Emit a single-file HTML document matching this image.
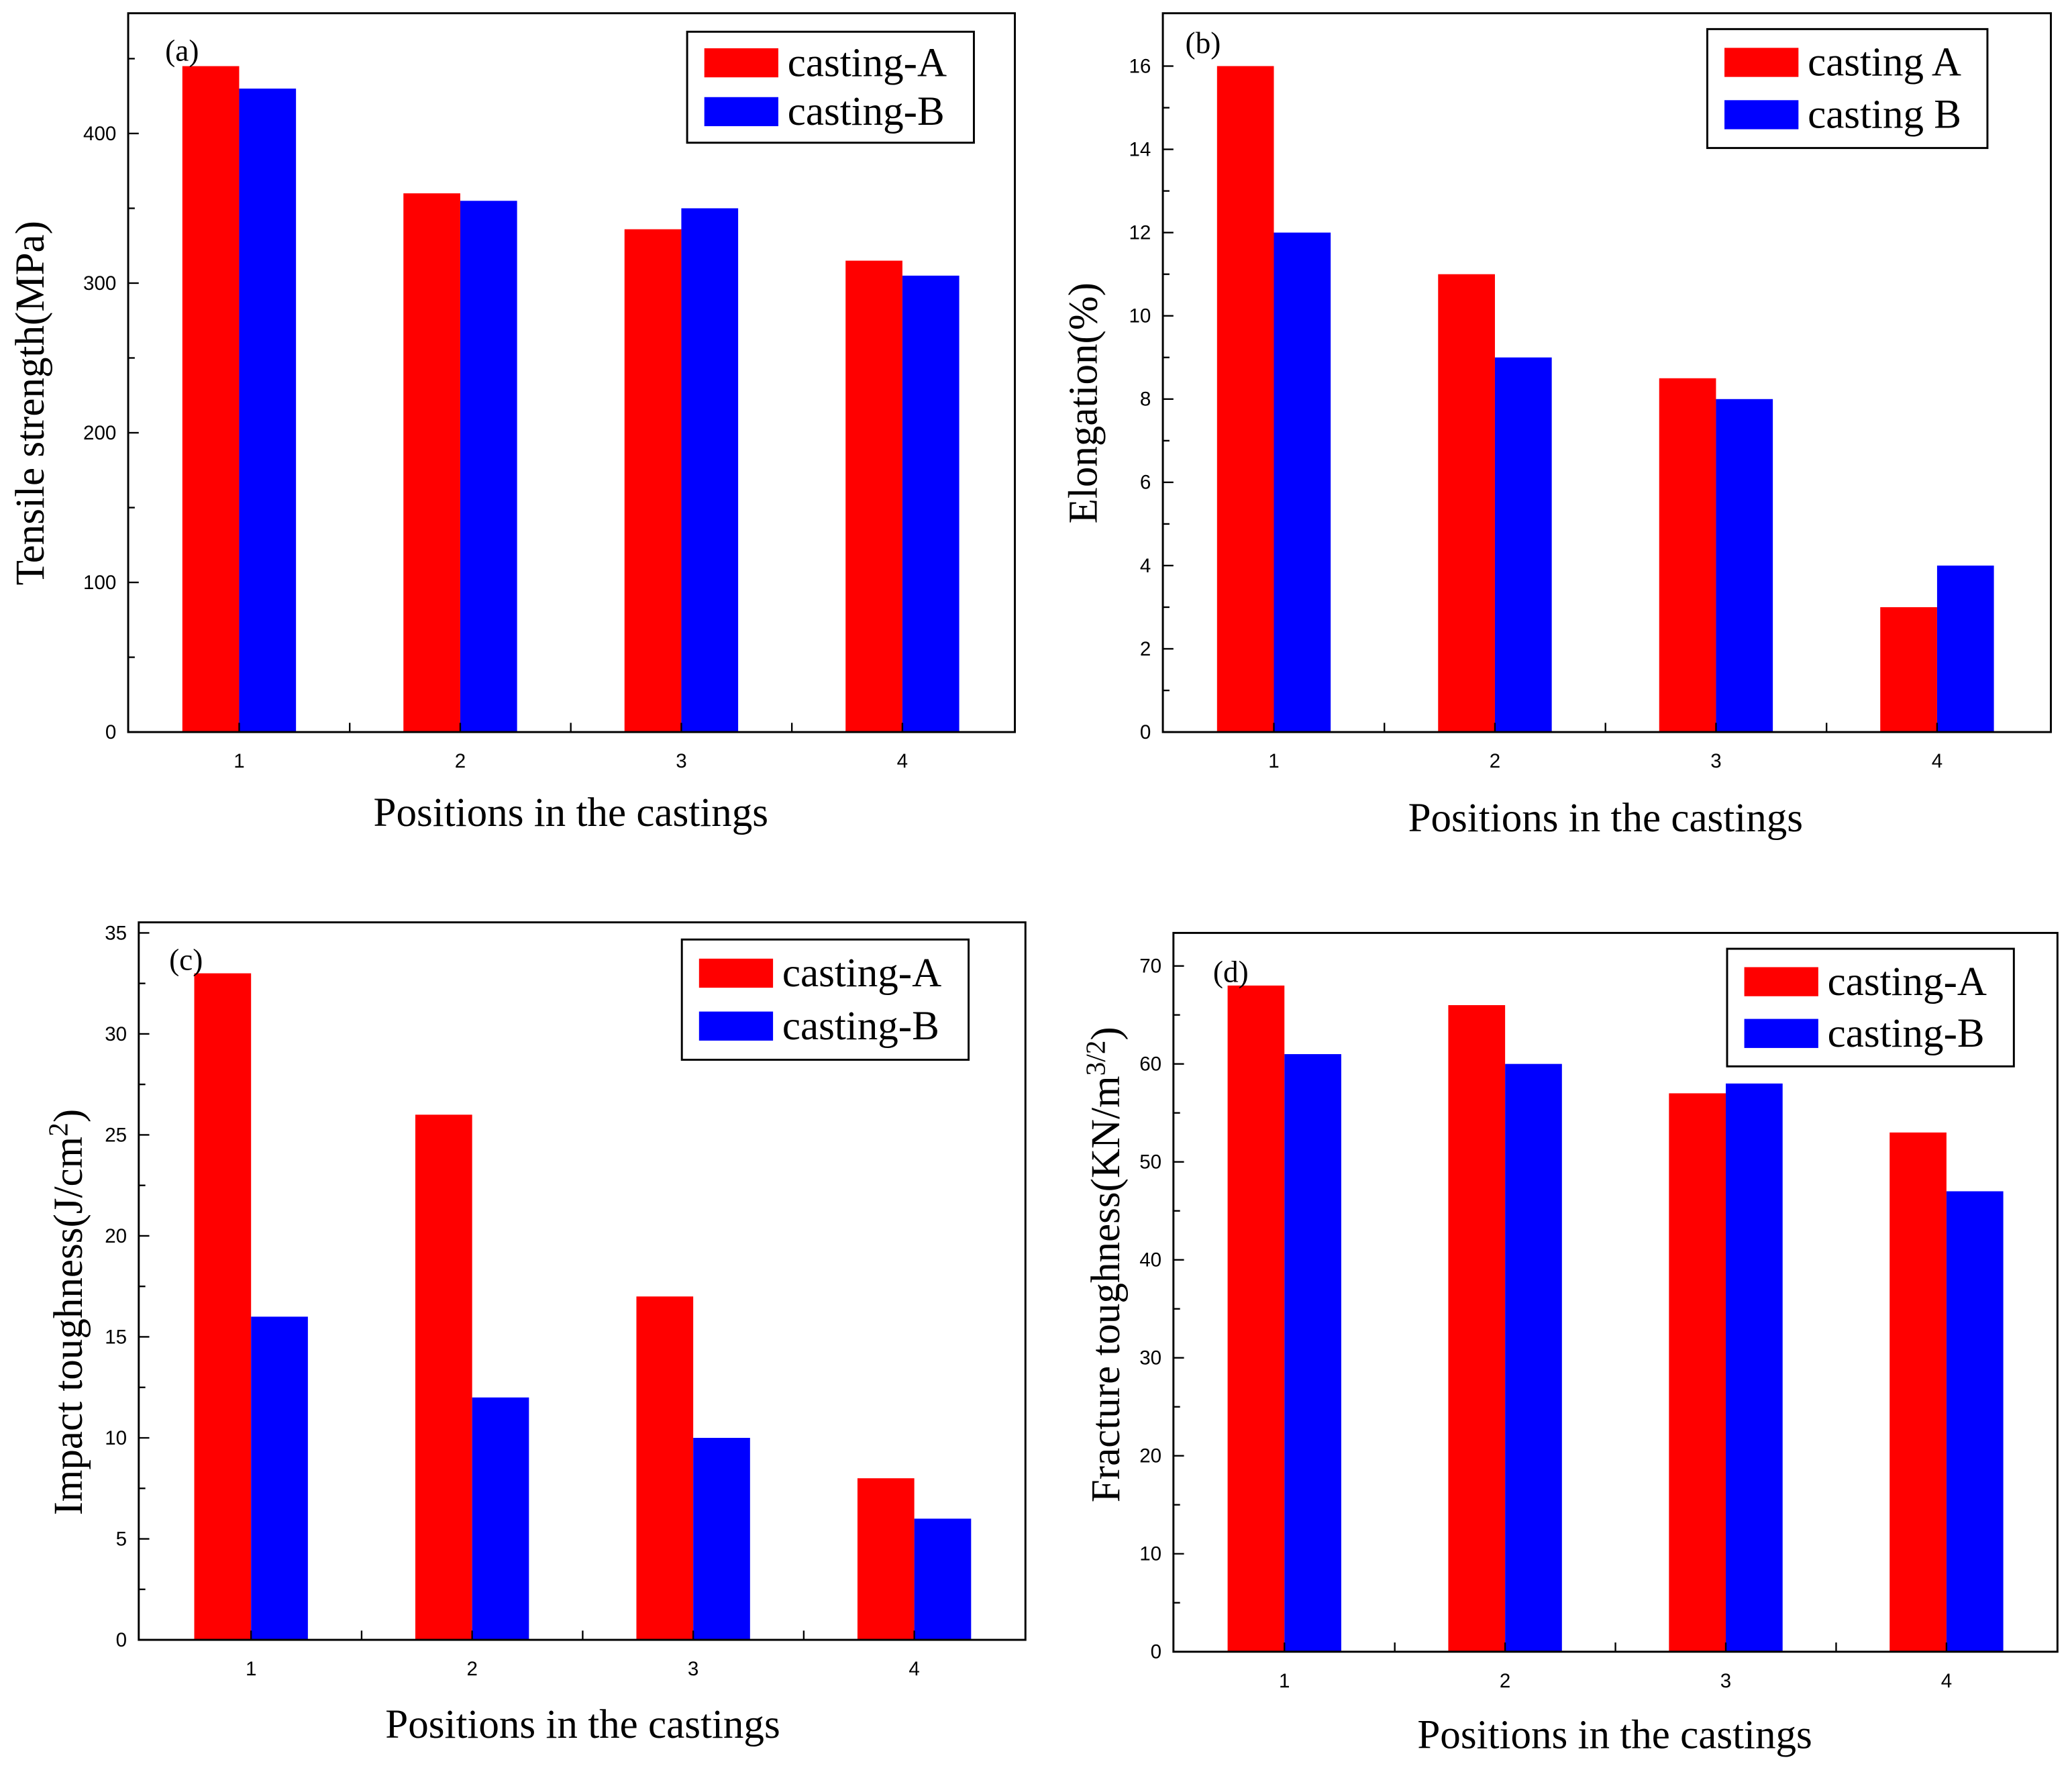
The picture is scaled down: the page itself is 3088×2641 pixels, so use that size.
<!DOCTYPE html>
<html><head><meta charset="utf-8"><style>
html,body{margin:0;padding:0;background:#fff}
svg{display:block}
.tk{font-family:"Liberation Sans",sans-serif;font-size:15px;fill:#000}
.tt{font-family:"Liberation Serif",serif;font-size:31px;fill:#000}
.lg{font-family:"Liberation Serif",serif;font-size:31px;fill:#000}
.pl{font-family:"Liberation Serif",serif;font-size:23px;fill:#000}
</style></head><body>
<svg id="fig" width="3088" height="2641" viewBox="0 0 1568 1341" xmlns="http://www.w3.org/2000/svg"></svg>
<script>
const categories = ["1","2","3","4"];
const aCastingA = [445,360,336,315];
const aCastingB = [430,355,350,305];
const bCastingA = [16,11,8.5,3];
const bCastingB = [12,9,8,4];
const cCastingA = [33,26,17,8];
const cCastingB = [16,12,10,6];
const dCastingA = [68,66,57,53];
const dCastingB = [61,60,58,47];
const aTicks = ["0","100","200","300","400"];
const bTicks = ["0","2","4","6","8","10","12","14","16"];
const cTicks = ["0","5","10","15","20","25","30","35"];
const dTicks = ["0","10","20","30","40","50","60","70"];

const NS="http://www.w3.org/2000/svg";
const svg=document.getElementById('fig');
function mk(tag,attrs,parent){const e=document.createElementNS(NS,tag);for(const k in attrs)e.setAttribute(k,attrs[k]);(parent||svg).appendChild(e);return e;}

function panel(cfg){
  const g=mk('g',{});
  
  
  const {L,T,R,B,vmax,vTop,yTop,c1,step,bw}=cfg;
  const y=v=>B-(B-yTop)*v/vTop;
  const x=i=>c1+i*step;
  categories.forEach((c,i)=>{
    const r=mk('rect',{x:x(i)-bw,y:y(cfg.A[i]),width:bw,height:B-y(cfg.A[i]),fill:'#ff0000'},g);
    
    
    const b=mk('rect',{x:x(i),y:y(cfg.Bv[i]),width:bw,height:B-y(cfg.Bv[i]),fill:'#0000ff'},g);
    
    
  });
  const fr=mk('rect',{x:L,y:T,width:R-L,height:B-T,fill:'none',stroke:'#000','stroke-width':1.5},g);
  
  
  const tv=cfg.ticks.map(Number);
  const d=tv[1]-tv[0];
  for(let v=0;v<=vmax+1e-9;v+=d/2){
    const major=Math.abs((v/d)-Math.round(v/d))<1e-6;
    mk('line',{x1:L,x2:L+(major?8:5),y1:y(v),y2:y(v),stroke:'#000','stroke-width':1.2},g);
  }
  cfg.ticks.forEach(t=>{
    const tx=mk('text',{x:L-9,y:y(Number(t))+5,'text-anchor':'end',class:'tk'},g);
    tx.textContent=t;
    
    
  });
  categories.forEach((c,i)=>{
    mk('line',{x1:x(i),x2:x(i),y1:B,y2:B-7,stroke:'#000','stroke-width':1.2},g);
    if(i<categories.length-1) mk('line',{x1:x(i)+step/2,x2:x(i)+step/2,y1:B,y2:B-7,stroke:'#000','stroke-width':1.2},g);
    const tx=mk('text',{x:x(i),y:B+27,'text-anchor':'middle',class:'tk'},g);
    tx.textContent=c;
    
    
  });
  const xt=mk('text',{x:cfg.xtX,y:cfg.xtY,'text-anchor':'middle',class:'tt'},g);
  xt.textContent='Positions in the castings';
  
  
  const yt=mk('text',{x:0,y:0,'text-anchor':'middle',class:'tt',transform:`translate(${cfg.ytX},${cfg.ytY}) rotate(-90)`},g);
  
  
  yt.appendChild(document.createTextNode(cfg.yTitle));
  if(cfg.sup){
    const s=mk('tspan',{dy:-11,'font-size':21},yt); s.textContent=cfg.sup;
    const e=mk('tspan',{dy:11},yt); e.textContent=')';
  }
  const pl=mk('text',{x:cfg.plX,y:cfg.plY,class:'pl'},g);
  pl.textContent=cfg.label;
  
  
  const [lx,ly,lw,lh]=cfg.leg;
  const lg=mk('g',{},g);
  
  
  mk('rect',{x:lx,y:ly,width:lw,height:lh,fill:'#fff',stroke:'#000','stroke-width':1.5},lg);
  const names=cfg.legNames;
  [['#ff0000',names[0]],['#0000ff',names[1]]].forEach((it,k)=>{
    const cy=ly+lh*(k===0?0.28:0.72);
    mk('rect',{x:lx+13,y:cy-11,width:56,height:22,fill:it[0]},lg);
    const t=mk('text',{x:lx+76,y:cy+10,class:'lg'},lg);
    t.textContent=it[1];
    
    
  });
}

panel({name:'panel-a-tensile',L:97,T:10,R:768,B:554,vmax:450,vTop:400,yTop:101,c1:181,step:167.3,bw:43,
  A:aCastingA,Bv:aCastingB,ticks:aTicks,xtX:432,xtY:625,ytX:33,ytY:305,yTitle:'Tensile strength(MPa)',
  plX:125,plY:46,label:'(a)',leg:[520,24,217,84],legNames:['casting-A','casting-B']});
panel({name:'panel-b-elongation',L:880,T:10,R:1552,B:554,vmax:16,vTop:16,yTop:50,c1:964,step:167.3,bw:43,
  A:bCastingA,Bv:bCastingB,ticks:bTicks,xtX:1215,xtY:629,ytX:830,ytY:305,yTitle:'Elongation(%)',
  plX:897,plY:40,label:'(b)',leg:[1292,22,212,90],legNames:['casting A','casting B']});
panel({name:'panel-c-impact',L:105,T:698,R:776,B:1241,vmax:35,vTop:35,yTop:706,c1:190,step:167.3,bw:43,
  A:cCastingA,Bv:cCastingB,ticks:cTicks,xtX:441,xtY:1315,ytX:62,ytY:993,yTitle:'Impact toughness(J/cm',sup:'2',
  plX:128,plY:734,label:'(c)',leg:[516,711,217,91],legNames:['casting-A','casting-B']});
panel({name:'panel-d-fracture',L:888,T:706,R:1557,B:1250,vmax:70,vTop:70,yTop:731,c1:972,step:167,bw:43,
  A:dCastingA,Bv:dCastingB,ticks:dTicks,xtX:1222,xtY:1323,ytX:847,ytY:957,yTitle:'Fracture toughness(KN/m',sup:'3/2',
  plX:918,plY:743,label:'(d)',leg:[1307,718,217,89],legNames:['casting-A','casting-B']});
</script>
</body></html>
